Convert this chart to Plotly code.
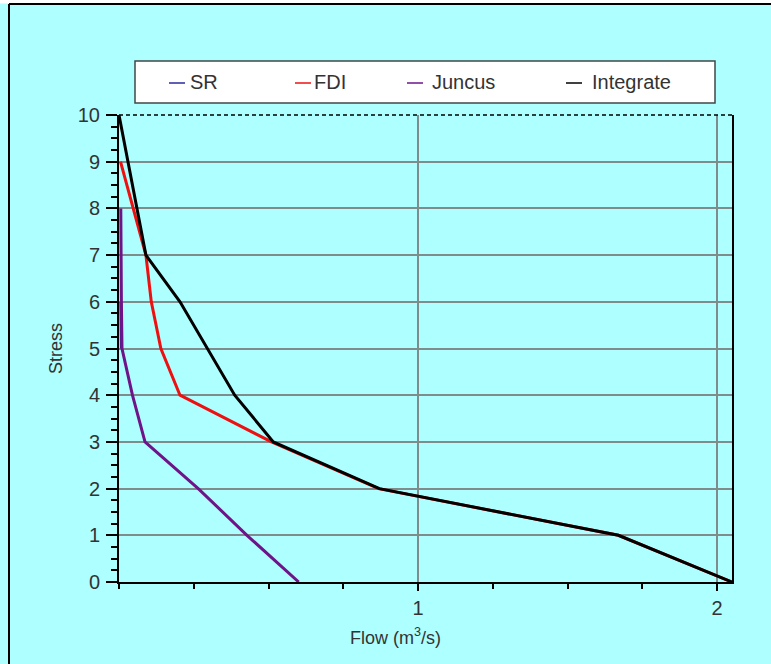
import plotly.graph_objects as go

# ---- data ----
stress = [10, 9, 8, 7, 6, 5, 4, 3, 2, 1, 0]
integrate_flow = [0.0, 0.030, 0.060, 0.090, 0.204, 0.295, 0.387, 0.516, 0.871, 1.67, 2.05]

fdi_stress = [9, 8, 7, 6, 5, 4, 3, 2, 1, 0]
fdi_flow = [0.005, 0.047, 0.090, 0.108, 0.140, 0.204, 0.510, 0.868, 1.67, 2.05]

juncus_stress = [8, 7, 6, 5, 4, 3, 2, 1, 0]
juncus_flow = [0.006, 0.006, 0.008, 0.010, 0.045, 0.087, 0.265, 0.428, 0.601]

sr_stress = [6, 5]
sr_flow = [0.006, 0.008]

series_names = ["SR", "FDI", "Juncus", "Integrate"]
series_colors = ["#2a2a9a", "#ee1010", "#6e1488", "#000000"]

x_tickvals = [1, 2]
x_ticktext = ["1", "2"]
y_tickvals = list(range(0, 11))

W, H = 771, 664
L, R, T, B = 119, 732, 115, 582  # plot area in pixels

def px(x):
    return (x - L) / (R - L)

def py(y):
    return (B - y) / (B - T)

FONT = "Liberation Sans, Arial, sans-serif"
BG = "#aeffff"
GRID = "#808c8c"
TXT = "#333333"

fig = go.Figure()
data = [
    (sr_flow, sr_stress),
    (fdi_flow, fdi_stress),
    (juncus_flow, juncus_stress),
    (integrate_flow, stress),
]
for (xs, ys), name, col in zip(data, series_names, series_colors):
    fig.add_trace(go.Scatter(x=xs, y=ys, mode="lines", name=name,
                             line=dict(color=col, width=3),
                             cliponaxis=False, showlegend=False))

shapes = []
annotations = []

# outer frame (top and left only)
shapes.append(dict(type="rect", xref="paper", yref="paper",
                   x0=px(0), x1=px(W), y0=py(0), y1=py(3.5),
                   fillcolor="white", line=dict(width=0), layer="below"))
shapes.append(dict(type="line", xref="paper", yref="paper",
                   x0=px(9), x1=px(W), y0=py(4), y1=py(4),
                   line=dict(color="black", width=2)))
shapes.append(dict(type="line", xref="paper", yref="paper",
                   x0=px(9), x1=px(9), y0=py(4), y1=py(H + 5),
                   line=dict(color="black", width=2)))

# dashed top border of plot area
shapes.append(dict(type="line", xref="paper", yref="paper",
                   x0=0, x1=1, y0=1, y1=1,
                   line=dict(color="black", width=1.5, dash="4px,3px")))

# legend box
shapes.append(dict(type="rect", xref="paper", yref="paper",
                   x0=px(135), x1=px(715), y0=py(103), y1=py(61),
                   fillcolor="white", line=dict(color="#404848", width=1.5)))
leg_line_x = [169, 295, 407, 566]
leg_text_x = [188, 312, 430, 590]
for lx, tx, name, col in zip(leg_line_x, leg_text_x, series_names, series_colors):
    shapes.append(dict(type="line", xref="paper", yref="paper",
                       x0=px(lx), x1=px(lx + 16), y0=py(83), y1=py(83),
                       line=dict(color=col, width=1.5)))
    annotations.append(dict(xref="paper", yref="paper", x=px(tx), y=py(82),
                            xanchor="left", yanchor="middle", showarrow=False,
                            text=name, font=dict(family=FONT, size=20, color=TXT)))

# x axis title
annotations.append(dict(xref="paper", yref="paper", x=px(395), y=py(636),
                        xanchor="center", yanchor="middle", showarrow=False,
                        text="Flow (m<sup>3</sup>/s)",
                        font=dict(family=FONT, size=18, color=TXT)))

fig.update_layout(
    width=W, height=H,
    margin=dict(l=L, r=W - R, t=T, b=H - B, pad=0),
    paper_bgcolor=BG, plot_bgcolor=BG,
    font=dict(family=FONT, size=18, color=TXT),
    showlegend=False,
    shapes=shapes, annotations=annotations,
    xaxis=dict(range=[0, 2.05], tickvals=x_tickvals, ticktext=x_ticktext,
               showgrid=True, gridcolor=GRID, gridwidth=1.5,
               showline=True, linecolor="black", linewidth=2, mirror=False,
               ticks="outside", ticklen=7, tickwidth=1.5, tickcolor="black",
               zeroline=False,
               minor=dict(dtick=0.25, tick0=0, ticks="outside", ticklen=5,
                          tickwidth=1.5, tickcolor="black", showgrid=False),
               tickfont=dict(family=FONT, size=20, color=TXT)),
    yaxis=dict(range=[0, 10], tickvals=y_tickvals,
               showgrid=True, gridcolor=GRID, gridwidth=1.5,
               showline=True, linecolor="black", linewidth=2, mirror=True,
               ticks="outside", ticklen=11, tickwidth=1.5, tickcolor="black",
               zeroline=False, ticklabelstandoff=2,
               minor=dict(dtick=0.25, tick0=0, ticks="outside", ticklen=6,
                          tickwidth=1.5, tickcolor="black", showgrid=False),
               tickfont=dict(family=FONT, size=20, color=TXT),
               title=dict(text="Stress", standoff=10,
                          font=dict(family=FONT, size=18, color=TXT))),
)

fig.write_html("out.html")
